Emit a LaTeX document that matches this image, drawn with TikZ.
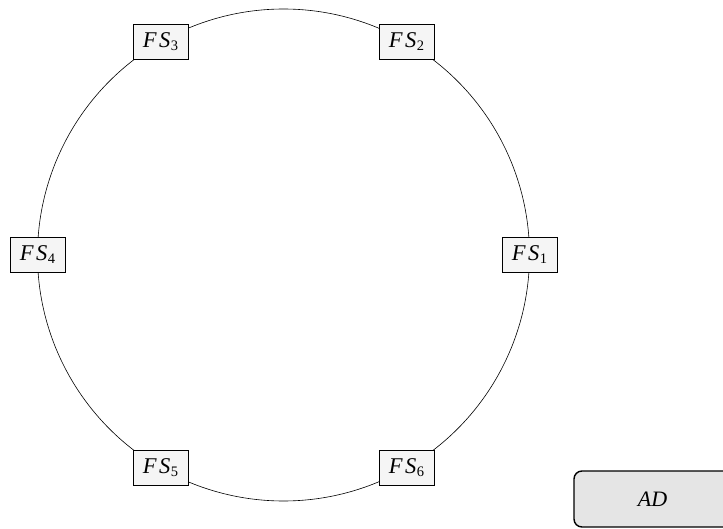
\documentclass[tikz,border=0pt]{standalone}
\usepackage{fontspec}
\setmainfont{Liberation Serif}
\usetikzlibrary{backgrounds,calc}
\newcommand\fslabel[1]{\textit{F\kern2.5pt S}\kern0.3pt\raisebox{-0.3ex}{\fontsize{14.5}{16}\selectfont #1}}
\begin{document}
\begin{tikzpicture}[x=1pt,y=-1pt,
  fsbox/.style={draw=black,line width=0.6pt,fill=gray!8,minimum width=55pt,minimum height=35pt,inner sep=0pt,font=\fontsize{22.5}{26}\selectfont},
  adbox/.style={draw=black,line width=1.4pt,fill=gray!20,rounded corners=8pt,minimum width=157pt,minimum height=56pt,inner sep=0pt,font=\fontsize{22}{26}\selectfont},
  ring/.style={draw=black,line width=0.6pt}]
\useasboundingbox (0,0) rectangle (723,529);
\coordinate (c) at (283.5,255);
\foreach \i/\a in {1/0,2/60,3/120,4/180,5/240,6/300}{
  \node[fsbox] (f\i) at ($(c)+(\a:246 and -246)$) {\fslabel{\i}};
}
\node[adbox] (ad) at (652.5,499) {\textit{AD}};
\begin{scope}[on background layer]
  \foreach \i/\a in {1/0,2/60,3/120,4/180,5/240,6/300}{
    \draw[ring] (f\i.center) arc[start angle=-\a, delta angle=-60, radius=246];
  }
\end{scope}
\end{tikzpicture}
\end{document}
